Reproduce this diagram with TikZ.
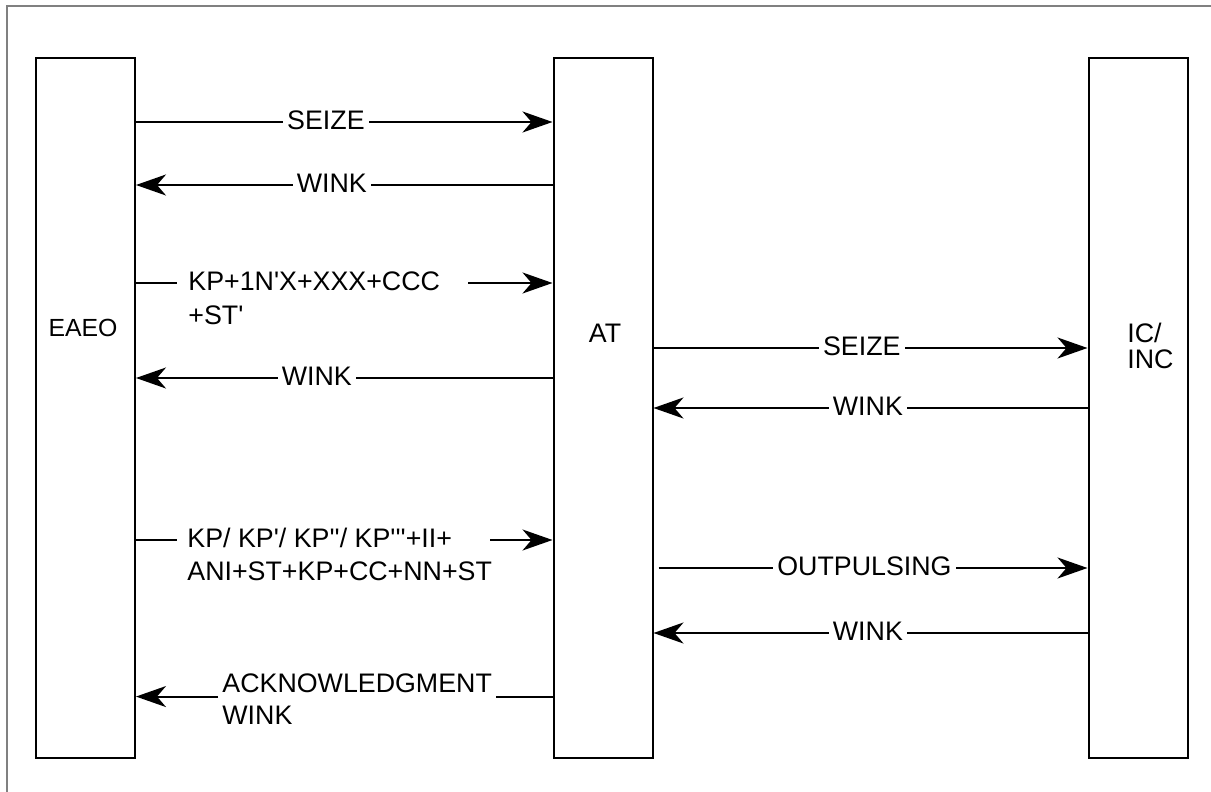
\documentclass[tikz,border=0pt]{standalone}
\usepackage{fontspec}
\newfontfamily\sigfont{Liberation Sans}
\usetikzlibrary{arrows.meta,positioning,calc}
\tikzset{unit/.style={draw,line width=1pt,minimum width=49.5pt,minimum height=350pt,inner sep=0pt}, msg/.style={line width=1pt}, sig/.style={msg,-{Stealth[length=15pt,width=10.5pt,inset=4.5pt]}}, lbl/.style={font={\sigfont\fontsize{13.4pt}{15pt}\selectfont},text height=.716em,text depth=0pt,inner xsep=2pt,inner ysep=2pt,fill=white}, unitname/.style={font={\sigfont\fontsize{12.4pt}{14pt}\selectfont},inner sep=1pt}, frame/.style={draw=black!50,line width=1pt}}

\begin{document}
\begin{tikzpicture}[x=0.5pt,y=-0.5pt]
\useasboundingbox (0,0) rectangle (1211,792);
\draw[frame] (7,792)--(7,6)--(1211,6);
% the three offices
\node[unit] (eaeo) at (85.5,408) {};
\node[unit] (at) at (603,408) {};
\node[unit] (ic) at (1138,408) {};
\node[unitname] (eaeoname) at (83,328) {EAEO};
\node[lbl,fill=none] (atname) at (605,335) {AT};
\node[lbl,fill=none,anchor=west] (icname) at (1123,335) {IC/};
\node[lbl,fill=none,anchor=west] (incname) at (1123,361) {INC};
% EAEO <-> AT
\draw[sig] (eaeo.east|-0,122)--node[lbl,pos=.456] (seize1) {SEIZE} (at.west|-0,122);
\draw[sig] (at.west|-0,185)--node[lbl,pos=.53] (wink1) {WINK} (eaeo.east|-0,185);
\node[lbl,anchor=west] (kp1a) at (184,283) {KP+1N'X+XXX+CCC};
\node[lbl,anchor=west] (kp1b) at (184,317) {+ST'};
\draw[msg] (eaeo.east|-kp1a)--([xshift=-3.5pt]kp1a.west);
\draw[sig] ([xshift=12pt]kp1a.east)--(at.west|-kp1a);
\draw[sig] (at.west|-0,378)--node[lbl,pos=.566] (wink2) {WINK} (eaeo.east|-0,378);
\node[lbl,anchor=west] (kp2a) at (183,540) {KP/ KP'/ KP''/ KP'''+II+};
\node[lbl,anchor=west] (kp2b) at (183,573) {ANI+ST+KP+CC+NN+ST};
\draw[msg] (eaeo.east|-kp2a)--([xshift=-3pt]kp2a.west);
\draw[sig] ([xshift=17pt]kp2a.east)--(at.west|-kp2a);
\node[lbl,anchor=west] (acka) at (218,685) {ACKNOWLEDGMENT};
\node[lbl,anchor=west] (ackb) at (218,717) {WINK};
\draw[msg] (at.west|-acka.south)--(acka.south east);
\draw[sig] (acka.south west)--(eaeo.east|-acka.south);
% AT <-> IC/INC
\draw[sig] (at.east|-0,348)--node[lbl,pos=.48] (seize2) {SEIZE} (ic.west|-0,348);
\draw[sig] (ic.west|-0,408)--node[lbl,pos=.506] (wink3) {WINK} (at.east|-0,408);
\draw[sig] ([xshift=2.5pt]at.east|-0,568)--node[lbl,pos=.48] (outp) {OUTPULSING} (ic.west|-0,568);
\draw[sig] (ic.west|-0,633)--node[lbl,pos=.506] (wink4) {WINK} (at.east|-0,633);
\end{tikzpicture}
\end{document}
